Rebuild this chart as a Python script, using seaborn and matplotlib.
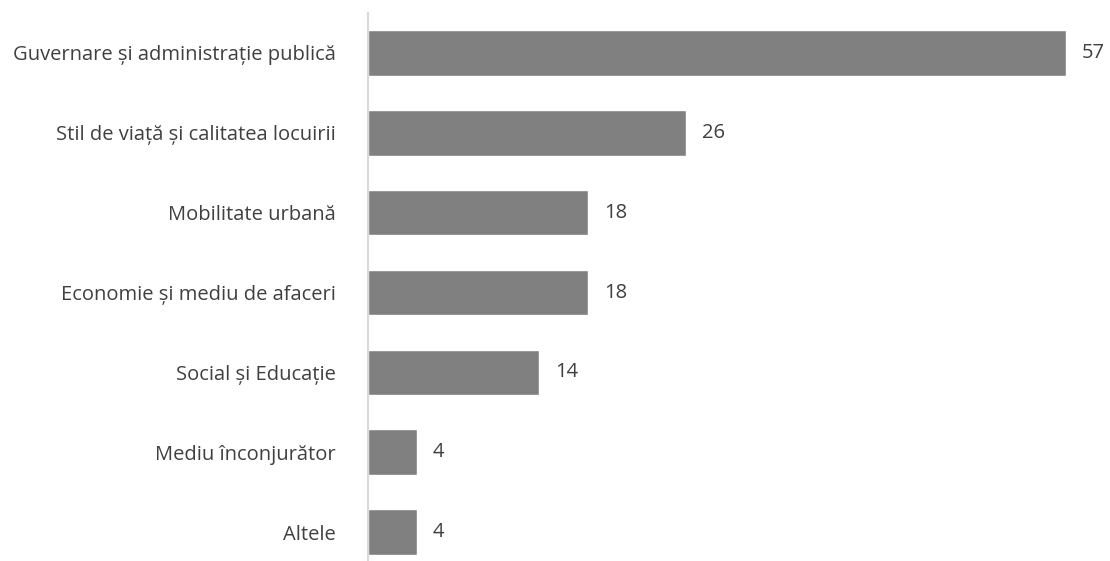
import matplotlib
matplotlib.use("Agg")
import matplotlib.pyplot as plt
import seaborn as sns
import pandas as pd

categories = [
    "Guvernare și administrație publică",
    "Stil de viață și calitatea locuirii",
    "Mobilitate urbană",
    "Economie și mediu de afaceri",
    "Social și Educație",
    "Mediu înconjurător",
    "Altele",
]
values = [57, 26, 18, 18, 14, 4, 4]

df = pd.DataFrame({"categorie": categories, "valoare": values})

sns.set_style("white")
plt.rcParams["font.family"] = ["Open Sans", "DejaVu Sans"]

fig = plt.figure(figsize=(11.10, 5.61), dpi=100)
ax = fig.add_axes([368 / 1110, -11 / 561, (1110 - 368) / 1110, (572 - 13) / 561])

sns.barplot(data=df, x="valoare", y="categorie", color="#808080",
            saturation=1, width=0.57, ax=ax)

ax.set_xlim(0, 60.6)
ax.set_ylim(6.5, -0.5)
ax.set_xlabel("")
ax.set_ylabel("")
ax.set_xticks([])
for s in ["top", "right", "bottom"]:
    ax.spines[s].set_visible(False)
ax.spines["left"].set_color("#d9d9d9")
ax.spines["left"].set_linewidth(1.5)
ax.tick_params(axis="y", length=0, pad=23, labelsize=14.5, labelcolor="#404040")

for i, v in enumerate(values):
    ax.annotate(str(v), (v, i), xytext=(11.5, 0), textcoords="offset points",
                va="center", ha="left", fontsize=14.5, color="#404040")

fig.savefig("out.png", dpi=100)
